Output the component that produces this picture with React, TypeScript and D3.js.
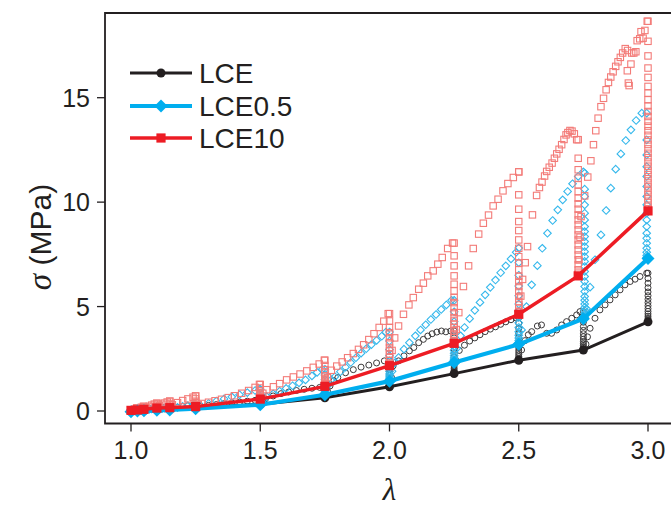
import React from "react";
import * as d3 from "d3";

// stretch steps (λ) where the stress was held and relaxed
const STEPS = [1.0, 1.025, 1.05, 1.1, 1.15, 1.25, 1.5, 1.75, 2.0, 2.25, 2.5, 2.75, 3.0];
const STEPS_LCE10 = [1.0, 1.025, 1.05, 1.1, 1.15, 1.25, 1.5, 1.75, 2.0, 2.25, 2.5, 2.73, 3.0];

// equilibrium stress (MPa) at the end of each hold
const LCE_EQ = [0, 0.02, 0.04, 0.07, 0.09, 0.16, 0.32, 0.63, 1.16, 1.79, 2.43, 2.92, 4.27];
const LCE05_EQ = [-0.03, 0, 0.01, 0.03, 0.05, 0.11, 0.3, 0.78, 1.43, 2.32, 3.19, 4.42, 7.3];
const LCE10_EQ = [0.03, 0.05, 0.08, 0.14, 0.16, 0.21, 0.57, 1.18, 2.17, 3.24, 4.63, 6.47, 9.58];

// loading points [λ, σ]
const LCE_LOAD = [
  [1.005, 0.0], [1.012, 0.02], [1.02, 0.04], [1.03, 0.04], [1.04, 0.06], [1.048, 0.08],
  [1.06, 0.07], [1.07, 0.1], [1.08, 0.12], [1.09, 0.14], [1.1, 0.16],
  [1.11, 0.12], [1.12, 0.15], [1.13, 0.17], [1.14, 0.19], [1.15, 0.2],
  [1.16, 0.14], [1.18, 0.18], [1.2, 0.22], [1.22, 0.25], [1.24, 0.28],
  [1.27, 0.22], [1.3, 0.27], [1.33, 0.31], [1.36, 0.35], [1.39, 0.39], [1.42, 0.43], [1.45, 0.47], [1.48, 0.51],
  [1.51, 0.45], [1.52, 0.58], [1.55, 0.72], [1.58, 0.83], [1.61, 0.91], [1.64, 0.98], [1.67, 1.04], [1.7, 1.09], [1.73, 1.13],
  [1.76, 0.95], [1.77, 1.2], [1.785, 1.45], [1.8, 1.6], [1.83, 1.83], [1.86, 1.98], [1.89, 2.1], [1.92, 2.2], [1.95, 2.3], [1.98, 2.4],
  [2.008, 1.6], [2.014, 2.16], [2.035, 2.4], [2.056, 2.64], [2.077, 2.88], [2.094, 3.04], [2.113, 3.27], [2.131, 3.43],
  [2.148, 3.59], [2.165, 3.7], [2.183, 3.78], [2.201, 3.83], [2.218, 3.79], [2.237, 3.83],
  [2.258, 2.4], [2.27, 2.9], [2.29, 3.15], [2.31, 3.35], [2.33, 3.5], [2.35, 3.65], [2.37, 3.8], [2.39, 3.92],
  [2.41, 4.03], [2.43, 4.15], [2.45, 4.27], [2.47, 4.37], [2.49, 4.45],
  [2.511, 2.92], [2.524, 3.37], [2.537, 3.65], [2.55, 3.8], [2.572, 4.07], [2.588, 4.12], [2.608, 3.72], [2.627, 3.72],
  [2.647, 3.88], [2.666, 4.12], [2.685, 4.28], [2.705, 4.44], [2.724, 4.6], [2.737, 4.76],
  [2.76, 3.2], [2.766, 3.55], [2.776, 3.96], [2.795, 4.44], [2.814, 4.84], [2.834, 5.08], [2.853, 5.32], [2.873, 5.56],
  [2.892, 5.8], [2.911, 6.04], [2.931, 6.2], [2.95, 6.31], [2.969, 6.44], [2.995, 6.6],
];
const LCE05_LOAD = [
  [1.005, -0.02], [1.015, 0.0], [1.022, 0.02], [1.035, 0.02], [1.045, 0.04],
  [1.06, 0.04], [1.07, 0.07], [1.08, 0.1], [1.09, 0.12], [1.1, 0.14],
  [1.11, 0.08], [1.12, 0.11], [1.13, 0.14], [1.14, 0.17], [1.15, 0.19],
  [1.16, 0.12], [1.18, 0.17], [1.2, 0.22], [1.22, 0.26], [1.24, 0.3],
  [1.27, 0.25], [1.3, 0.36], [1.33, 0.47], [1.36, 0.58], [1.39, 0.68], [1.42, 0.78], [1.45, 0.88], [1.48, 0.98], [1.497, 1.04],
  [1.51, 0.5], [1.525, 0.69], [1.55, 0.82], [1.575, 0.95], [1.6, 1.08], [1.625, 1.21], [1.65, 1.35], [1.675, 1.49], [1.7, 1.68], [1.72, 1.85], [1.74, 2.0],
  [1.76, 1.2], [1.775, 1.5], [1.789, 1.64], [1.81, 1.88], [1.83, 2.1], [1.85, 2.32], [1.87, 2.55], [1.89, 2.77], [1.91, 2.98],
  [1.93, 3.18], [1.95, 3.38], [1.97, 3.58], [1.986, 3.78],
  [2.01, 1.9], [2.02, 2.3], [2.035, 2.56], [2.056, 2.96], [2.077, 3.27], [2.1, 3.6], [2.12, 3.88], [2.14, 4.13], [2.16, 4.38],
  [2.18, 4.62], [2.2, 4.86], [2.22, 5.08], [2.24, 5.3],
  [2.26, 3.0], [2.275, 3.6], [2.29, 4.0], [2.31, 4.42], [2.33, 4.82], [2.35, 5.2], [2.37, 5.56], [2.39, 5.92], [2.41, 6.27],
  [2.43, 6.62], [2.45, 6.95], [2.47, 7.28], [2.49, 7.6],
  [2.511, 3.88], [2.53, 5.0], [2.55, 6.04], [2.572, 6.96], [2.591, 7.79], [2.611, 8.51], [2.631, 9.12], [2.651, 9.63],
  [2.67, 10.11], [2.689, 10.51], [2.708, 10.88], [2.73, 11.23], [2.75, 11.45],
  [2.762, 4.9], [2.776, 5.93], [2.795, 7.24], [2.818, 8.43], [2.838, 9.6], [2.856, 10.67], [2.875, 11.58], [2.895, 12.31],
  [2.914, 12.95], [2.934, 13.46], [2.954, 13.91], [2.976, 14.26],
];
const LCE10_LOAD = [
  [1.005, 0.05], [1.015, 0.1], [1.022, 0.15], [1.032, 0.12], [1.04, 0.18], [1.048, 0.22],
  [1.06, 0.15], [1.07, 0.22], [1.08, 0.28], [1.09, 0.33], [1.1, 0.37],
  [1.11, 0.25], [1.12, 0.32], [1.13, 0.38], [1.14, 0.43], [1.15, 0.47],
  [1.16, 0.3], [1.18, 0.4], [1.2, 0.5], [1.22, 0.58], [1.24, 0.66], [1.25, 0.72],
  [1.26, 0.3], [1.273, 0.36], [1.3, 0.42], [1.325, 0.49], [1.35, 0.56], [1.376, 0.64], [1.4, 0.73], [1.428, 0.85],
  [1.455, 0.98], [1.48, 1.13], [1.497, 1.27],
  [1.51, 0.85], [1.525, 1.02], [1.551, 1.16], [1.575, 1.31], [1.602, 1.49], [1.628, 1.63], [1.654, 1.77], [1.68, 1.92],
  [1.705, 2.09], [1.728, 2.25], [1.748, 2.43],
  [1.76, 1.6], [1.775, 1.95], [1.796, 2.15], [1.817, 2.35], [1.838, 2.55], [1.86, 2.75], [1.88, 2.95], [1.9, 3.17],
  [1.92, 3.42], [1.94, 3.7], [1.96, 4.0], [1.978, 4.3], [1.995, 4.66],
  [2.01, 2.9], [2.02, 3.5], [2.035, 4.07], [2.054, 4.63], [2.075, 5.08], [2.092, 5.43], [2.113, 5.83], [2.131, 6.12],
  [2.148, 6.47], [2.169, 6.71], [2.187, 7.03], [2.204, 7.35], [2.225, 7.78], [2.244, 8.04],
  [2.258, 3.9], [2.268, 4.71], [2.286, 5.96], [2.306, 6.95], [2.324, 7.78], [2.345, 8.47], [2.363, 8.99], [2.383, 9.38],
  [2.401, 9.82], [2.42, 10.14], [2.439, 10.54], [2.458, 10.89], [2.479, 11.18], [2.5, 11.45],
  [2.508, 5.5], [2.515, 6.3], [2.525, 7.1], [2.534, 7.87], [2.553, 9.39], [2.569, 10.32], [2.58, 10.7], [2.59, 10.96],
  [2.6, 11.25], [2.608, 11.47], [2.618, 11.67], [2.629, 11.87], [2.638, 12.1], [2.647, 12.31], [2.656, 12.53],
  [2.666, 12.75], [2.675, 13.0], [2.683, 13.22], [2.69, 13.33], [2.698, 13.43], [2.706, 13.4], [2.715, 13.27], [2.724, 12.99],
  [2.733, 7.24], [2.737, 8.32], [2.741, 9.31], [2.755, 10.3], [2.767, 11.2], [2.779, 11.98], [2.789, 12.75], [2.798, 13.42],
  [2.807, 14.02], [2.818, 14.57], [2.828, 14.97], [2.838, 15.38], [2.847, 15.73], [2.856, 15.99], [2.865, 16.24],
  [2.875, 16.5], [2.884, 16.72], [2.893, 16.93], [2.902, 17.14], [2.912, 17.35], [2.921, 17.26], [2.92, 16.29],
  [2.924, 15.7], [2.927, 15.58], [2.934, 16.61], [2.937, 17.14], [2.945, 17.14], [2.953, 17.2], [2.958, 17.73],
  [2.968, 17.82], [2.973, 18.16], [2.981, 17.85], [2.988, 18.22], [2.997, 18.66],
];

// relaxation columns [λ, σ values while held]
const LCE_RELAX = [
  [1.025, [0.04, 0.03]], [1.05, [0.08, 0.05]], [1.1, [0.16, 0.12, 0.09]], [1.15, [0.2, 0.15, 0.11]],
  [1.25, [0.3, 0.25, 0.21, 0.18]], [1.5, [0.53, 0.47, 0.42, 0.38, 0.35]],
  [1.75, [1.15, 1.02, 0.92, 0.84, 0.77, 0.72, 0.68]],
  [2.0, [2.42, 2.2, 2.0, 1.85, 1.7, 1.58, 1.47, 1.38, 1.3, 1.23, 1.18]],
  [2.25, [3.83, 3.5, 3.2, 2.95, 2.75, 2.57, 2.42, 2.28, 2.16, 2.05, 1.96, 1.88, 1.82]],
  [2.5, [4.47, 4.2, 3.95, 3.72, 3.52, 3.34, 3.18, 3.04, 2.91, 2.8, 2.7, 2.61, 2.53, 2.47]],
  [2.75, [4.76, 4.5, 4.25, 4.04, 3.86, 3.7, 3.56, 3.44, 3.33, 3.23, 3.14, 3.06, 2.99, 2.94]],
  [3.0, [6.6, 6.35, 6.12, 5.9, 5.7, 5.52, 5.35, 5.19, 5.04, 4.9, 4.77, 4.65, 4.54, 4.44, 4.35, 4.29]],
];
const LCE05_RELAX = [
  [1.025, [0.02, 0.0]], [1.05, [0.04, 0.02]], [1.1, [0.14, 0.09, 0.05]], [1.15, [0.19, 0.12, 0.07]],
  [1.25, [0.3, 0.22, 0.17, 0.13]], [1.5, [1.04, 0.85, 0.7, 0.58, 0.49, 0.42, 0.36, 0.32]],
  [1.75, [2.0, 1.72, 1.5, 1.32, 1.18, 1.06, 0.97, 0.9, 0.84]],
  [2.0, [3.78, 3.35, 2.95, 2.65, 2.4, 2.2, 2.03, 1.89, 1.77, 1.67, 1.58, 1.51, 1.46]],
  [2.25, [5.3, 4.75, 4.28, 3.88, 3.56, 3.3, 3.08, 2.9, 2.76, 2.64, 2.54, 2.46, 2.39, 2.34]],
  [2.5, [7.8, 7.1, 6.5, 5.98, 5.52, 5.12, 4.78, 4.48, 4.22, 4.0, 3.8, 3.63, 3.49, 3.37, 3.27, 3.21]],
  [2.755, [11.39, 10.62, 10.27, 9.87, 9.47, 9.15, 8.83, 8.59, 8.35, 8.11, 7.87, 7.63, 7.39, 7.16, 6.92, 6.68, 6.44,
    6.2, 5.96, 5.72, 5.48, 5.3, 5.12, 4.96, 4.82, 4.68, 4.56, 4.48]],
  [2.995, [14.26, 12.98, 12.26, 11.7, 11.23, 10.75, 10.27, 9.87, 9.47, 9.15, 8.83, 8.51, 8.27, 8.03, 7.79, 7.6, 7.45, 7.35]],
];
const LCE10_RELAX = [
  [1.025, [0.15, 0.1, 0.07]], [1.05, [0.22, 0.15, 0.1]], [1.1, [0.37, 0.28, 0.21, 0.16]],
  [1.15, [0.47, 0.36, 0.28, 0.22, 0.18]], [1.25, [0.72, 0.58, 0.47, 0.39, 0.33, 0.28, 0.24]],
  [1.5, [1.27, 1.1, 0.97, 0.87, 0.79, 0.72, 0.67, 0.63]],
  [1.75, [2.43, 2.18, 1.98, 1.82, 1.68, 1.56, 1.46, 1.38, 1.31, 1.25]],
  [2.0, [4.66, 4.31, 3.99, 3.75, 3.51, 3.27, 3.04, 2.88, 2.72, 2.56, 2.42, 2.3, 2.24]],
  [2.25, [8.04, 7.43, 6.95, 6.47, 6.07, 5.75, 5.43, 5.19, 4.95, 4.71, 4.47, 4.31, 4.15, 3.99, 3.83, 3.67, 3.51, 3.38, 3.3]],
  [2.5, [11.45, 10.35, 9.66, 9.07, 8.64, 8.19, 7.79, 7.39, 7.08, 6.76, 6.45, 6.2, 5.96, 5.72, 5.48, 5.24, 5.08, 4.92, 4.76, 4.68]],
  [2.73, [12.99, 12.1, 11.55, 11.15, 10.83, 10.51, 10.19, 9.92, 9.66, 9.39, 9.15, 8.91, 8.67, 8.43, 8.19, 7.95, 7.71,
    7.47, 7.24, 7.0, 6.76, 6.6]],
  [3.0, [18.66, 17.7, 17.0, 16.42, 15.97, 15.54, 15.22, 14.9, 14.61, 14.34, 14.1, 13.87, 13.64, 13.42, 13.2, 12.98,
    12.76, 12.55, 12.34, 12.13, 11.92, 11.72, 11.52, 11.32, 11.12, 10.92, 10.73, 10.54, 10.35, 10.16, 9.98, 9.8, 9.68]],
];

const X_TICKS = [1.0, 1.5, 2.0, 2.5, 3.0];
const Y_TICKS = [0, 5, 10, 15];
const SERIES_NAMES = ["LCE", "LCE0.5", "LCE10"];

const FONT = "'Liberation Sans', Arial, Helvetica, sans-serif";
const INK = "#231f20";

const W = 671;
const H = 508;

function scatterPoints(load, relax) {
  const pts = load.map((d) => [d[0], d[1]]);
  relax.forEach(([lam, vals]) => vals.forEach((s) => pts.push([lam, s])));
  return pts;
}

const diamond = (cx, cy, r) => `M${cx},${cy - r}L${cx + r},${cy}L${cx},${cy + r}L${cx - r},${cy}Z`;

export default function App() {
  // axis box: left 105, top 13, bottom 423 (right side runs past the page)
  const x = d3.scaleLinear().domain([1, 3]).range([131, 648]);
  const y = d3.scaleLinear().domain([0, 15]).range([411, 97.7]);
  const box = { left: 105, top: 13, bottom: 423.5, right: 690 };

  const line = d3
    .line()
    .x((d) => x(d[0]))
    .y((d) => y(d[1]));

  const lce = STEPS.map((l, i) => [l, LCE_EQ[i]]);
  const lce05 = STEPS.map((l, i) => [l, LCE05_EQ[i]]);
  const lce10 = STEPS_LCE10.map((l, i) => [l, LCE10_EQ[i]]);

  const blackPts = scatterPoints(LCE_LOAD, LCE_RELAX);
  const bluePts = scatterPoints(LCE05_LOAD, LCE05_RELAX);
  const redPts = scatterPoints(LCE10_LOAD, LCE10_RELAX);

  const fmt = d3.format(".1f");

  const legendRows = [
    { y: 73, color: INK, width: 3, kind: "circle" },
    { y: 106, color: "#00aeef", width: 4, kind: "diamond" },
    { y: 138, color: "#ed1c24", width: 3.5, kind: "square" },
  ];

  return (
    <svg
      width={W}
      height={H}
      style={{ position: "absolute", left: 0, top: 0, background: "#fff" }}
      fontFamily={FONT}
    >
      <rect width={W} height={H} fill="#fff" />

      {/* open markers: relaxation data */}
      <g fill="none" stroke="#3c3a3b" strokeWidth={1}>
        {blackPts.map((d, i) => (
          <circle key={i} cx={x(d[0])} cy={y(d[1])} r={3} />
        ))}
      </g>
      <g fill="none" stroke="#35b8ec" strokeWidth={1.1}>
        {bluePts.map((d, i) => (
          <path key={i} d={diamond(x(d[0]), y(d[1]), 3.8)} />
        ))}
      </g>
      <g fill="none" stroke="#f37b78" strokeWidth={1.1}>
        {redPts.map((d, i) => (
          <rect key={i} x={x(d[0]) - 3.2} y={y(d[1]) - 3.2} width={6.4} height={6.4} />
        ))}
      </g>

      {/* equilibrium lines */}
      <path d={line(lce)} fill="none" stroke={INK} strokeWidth={3} />
      {lce.map((d, i) => (
        <circle key={i} cx={x(d[0])} cy={y(d[1])} r={4.5} fill={INK} />
      ))}
      <path d={line(lce05)} fill="none" stroke="#00aeef" strokeWidth={4.2} />
      {lce05.map((d, i) => (
        <path key={i} d={diamond(x(d[0]), y(d[1]), 6.5)} fill="#00aeef" />
      ))}
      <path d={line(lce10)} fill="none" stroke="#ed1c24" strokeWidth={3.5} />
      {lce10.map((d, i) => (
        <rect key={i} x={x(d[0]) - 4.6} y={y(d[1]) - 4.6} width={9.2} height={9.2} fill="#ed1c24" />
      ))}

      {/* frame */}
      <path
        d={`M${box.right},${box.top}H${box.left}V${box.bottom}H${box.right}`}
        fill="none"
        stroke={INK}
        strokeWidth={1.8}
      />

      {/* x axis */}
      {X_TICKS.map((t) => (
        <g key={t}>
          <line x1={x(t)} x2={x(t)} y1={box.bottom} y2={box.bottom + 8} stroke={INK} strokeWidth={1.3} />
          <text x={x(t)} y={459} textAnchor="middle" fontSize={25} fill={INK}>
            {fmt(t)}
          </text>
        </g>
      ))}
      <text
        x={x(2)}
        y={500}
        textAnchor="middle"
        fontSize={31}
        fontStyle="italic"
        fontFamily="'Liberation Serif', serif"
        fill={INK}
      >
        λ
      </text>

      {/* y axis */}
      {Y_TICKS.map((t) => (
        <g key={t}>
          <line x1={box.left - 8} x2={box.left} y1={y(t)} y2={y(t)} stroke={INK} strokeWidth={1.3} />
          <text x={90} y={y(t) + 9} textAnchor="end" fontSize={25} fill={INK}>
            {t}
          </text>
        </g>
      ))}
      <text transform="translate(51,237) rotate(-90)" textAnchor="middle" fontSize={30} fill={INK}>
        <tspan fontStyle="italic" fontFamily="'Liberation Serif', serif" fontSize={33}>
          σ
        </tspan>
        <tspan> (MPa)</tspan>
      </text>

      {/* legend */}
      {legendRows.map((r, i) => (
        <g key={i}>
          <line x1={130} x2={192} y1={r.y} y2={r.y} stroke={r.color} strokeWidth={r.width} />
          {r.kind === "circle" && <circle cx={161} cy={r.y} r={4.5} fill={r.color} />}
          {r.kind === "diamond" && <path d={diamond(161, r.y, 6.5)} fill={r.color} />}
          {r.kind === "square" && <rect x={156.4} y={r.y - 4.6} width={9.2} height={9.2} fill={r.color} />}
          <text x={199} y={r.y + 10} fontSize={28} fill={INK}>
            {SERIES_NAMES[i]}
          </text>
        </g>
      ))}
    </svg>
  );
}
